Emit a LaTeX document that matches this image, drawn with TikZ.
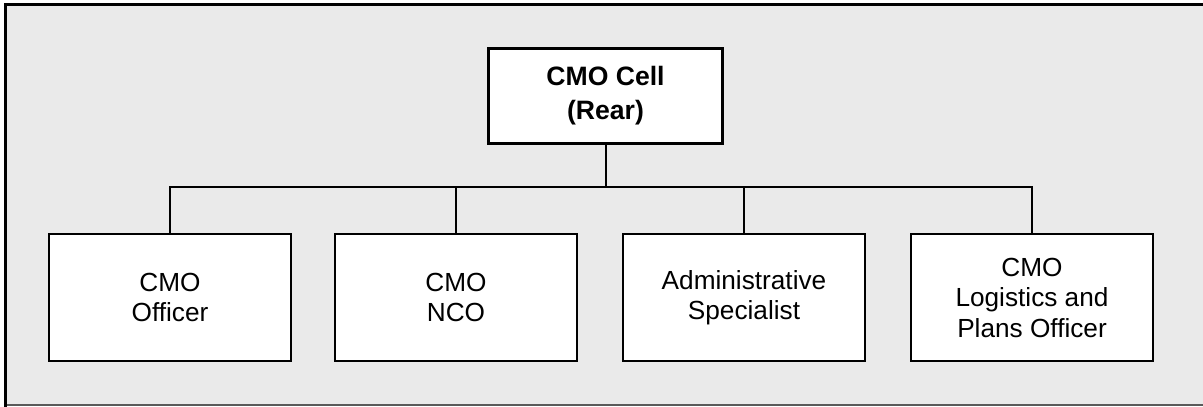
\documentclass[tikz,border=0pt]{standalone}
\usepackage{fontspec}
\setmainfont{Liberation Sans}
\begin{document}
\begin{tikzpicture}[x=1pt,y=-1pt,
  headbox/.style={draw=black,fill=white,line width=3pt,inner sep=0pt,outer sep=0pt,
    minimum width=234pt,minimum height=95pt,align=center,
    font=\fontsize{26.6}{34}\selectfont\bfseries},
  unitbox/.style={draw=black,fill=white,line width=2pt,inner sep=0pt,outer sep=0pt,
    minimum width=242pt,minimum height=127pt,align=center,
    font=\fontsize{26.2}{30.5}\selectfont},
  link/.style={draw=black,line width=2pt}]
\useasboundingbox (0,0) rectangle (1203,407);
% panel background
\fill[fill={rgb,255:red,234;green,234;blue,234}] (5,4) rectangle (1203,405);
\draw[line width=1.5pt,draw={rgb,255:red,90;green,90;blue,90}] (4,405.2) -- (1203,405.2);
\draw[line width=3pt,black] (5.5,407) -- (5.5,4.5) -- (1203,4.5);
% organisation chart
\node[headbox] (head) at (605.5,96) {CMO Cell\\(Rear)};
\node[unitbox] (u1) at (170,297.5) {CMO\\Officer};
\node[unitbox] (u2) at (456,297.5) {CMO\\NCO};
\node[unitbox] (u3) at (744,297.5) {Administrative\\Specialist};
\node[unitbox] (u4) at (1032,297.5) {CMO\\Logistics and\\Plans Officer};
\coordinate (bus) at (606,187);
\draw[link] (head.south -| bus) -- (bus);
\foreach \u in {u1,u2,u3,u4}
  \draw[link] (\u.north) |- (bus);
\end{tikzpicture}
\end{document}
